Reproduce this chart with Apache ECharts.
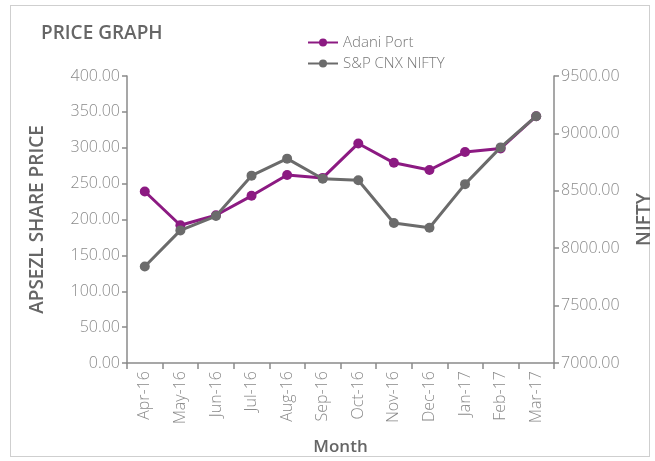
<!DOCTYPE html>
<html>
<head>
<meta charset="utf-8">
<script src="https://cdn.jsdelivr.net/npm/echarts@6/dist/echarts.min.js"></script>
<style>
  html, body { margin: 0; padding: 0; background: #fff; }
  .frame {
    position: absolute; left: 10px; top: 5px; width: 640px; height: 452px;
    border: 1px solid #cfcfcf; box-sizing: border-box;
  }
  #chart { position: absolute; left: 0; top: 0; width: 655px; height: 461px; }
</style>
</head>
<body>
<div class="frame"></div>
<div id="chart"></div>
<script>
// months
var months = ["Apr-16", "May-16", "Jun-16", "Jul-16", "Aug-16", "Sep-16", "Oct-16", "Nov-16", "Dec-16", "Jan-17", "Feb-17", "Mar-17"];
// Adani Port share price (left axis)
var adaniPort = [239, 192, 206, 233, 262, 258, 306, 279, 269, 294, 299, 344];
// S&P CNX NIFTY (right axis)
var nifty = [7840, 8155, 8280, 8632, 8780, 8605, 8592, 8220, 8178, 8558, 8878, 9150];

var purple = "#8c1a82";
var grey = "#6b6b6b";
var axisGrey = "#8a8a8a";
var labelGrey = "#8a8a8a";
var font = "Open Sans";

var chart = echarts.init(document.getElementById("chart"));
var option = {
  title: {
    text: "PRICE GRAPH",
    left: 36,
    top: 19,
    textStyle: { color: "#666", fontSize: 19, fontWeight: 600, fontFamily: font }
  },
  legend: {
    orient: "vertical",
    left: 302,
    top: 30,
    itemGap: 6,
    itemWidth: 30,
    itemHeight: 10,
    textStyle: { color: "#777", fontSize: 15, fontWeight: 300, fontFamily: font },
    data: ["Adani Port", "S&P CNX NIFTY"]
  },
  grid: { left: 127, right: 101, top: 76, bottom: 98, outerBoundsMode: "none", containLabel: false },
  xAxis: {
    type: "category",
    data: months,
    boundaryGap: true,
    name: "Month",
    nameLocation: "middle",
    nameGap: 76,
    nameTextStyle: { color: "#666", fontSize: 17, fontWeight: 600, fontFamily: font },
    axisLine: { lineStyle: { color: axisGrey, width: 1.5 } },
    axisTick: { show: true, length: 6, lineStyle: { color: axisGrey, width: 1.5 } },
    axisLabel: { rotate: 90, color: labelGrey, fontSize: 16, fontWeight: 300, fontFamily: font, margin: 8, interval: 0 }
  },
  yAxis: [
    {
      type: "value",
      min: 0,
      max: 400,
      interval: 50,
      name: "APSEZL SHARE PRICE",
      nameLocation: "middle",
      nameGap: 80,
      nameTextStyle: { color: "#666", fontSize: 19, fontWeight: 600, fontFamily: font },
      axisLine: { show: true, lineStyle: { color: axisGrey, width: 1.5 } },
      axisTick: { show: true, length: 5, lineStyle: { color: axisGrey, width: 1.5 } },
      splitLine: { show: false },
      axisLabel: {
        color: labelGrey, fontSize: 16, fontWeight: 300, fontFamily: font, margin: 7,
        formatter: function (v) { return v.toFixed(2); }
      }
    },
    {
      type: "value",
      min: 7000,
      max: 9500,
      interval: 500,
      name: "NIFTY",
      nameLocation: "middle",
      nameGap: 81,
      nameRotate: 90,
      nameTextStyle: { color: "#666", fontSize: 19, fontWeight: 600, fontFamily: font },
      axisLine: { show: true, lineStyle: { color: axisGrey, width: 1.5 } },
      axisTick: { show: true, length: 5, lineStyle: { color: axisGrey, width: 1.5 } },
      splitLine: { show: false },
      axisLabel: {
        color: labelGrey, fontSize: 16, fontWeight: 300, fontFamily: font, margin: 7,
        formatter: function (v) { return v.toFixed(2); }
      }
    }
  ],
  series: [
    {
      name: "Adani Port",
      type: "line",
      yAxisIndex: 0,
      data: adaniPort,
      symbol: "circle",
      symbolSize: 10,
      lineStyle: { color: purple, width: 3 },
      itemStyle: { color: purple },
      z: 2
    },
    {
      name: "S&P CNX NIFTY",
      type: "line",
      yAxisIndex: 1,
      data: nifty,
      symbol: "circle",
      symbolSize: 10,
      lineStyle: { color: grey, width: 3 },
      itemStyle: { color: grey },
      z: 3
    }
  ]
};
chart.setOption(option);
</script>
</body>
</html>
